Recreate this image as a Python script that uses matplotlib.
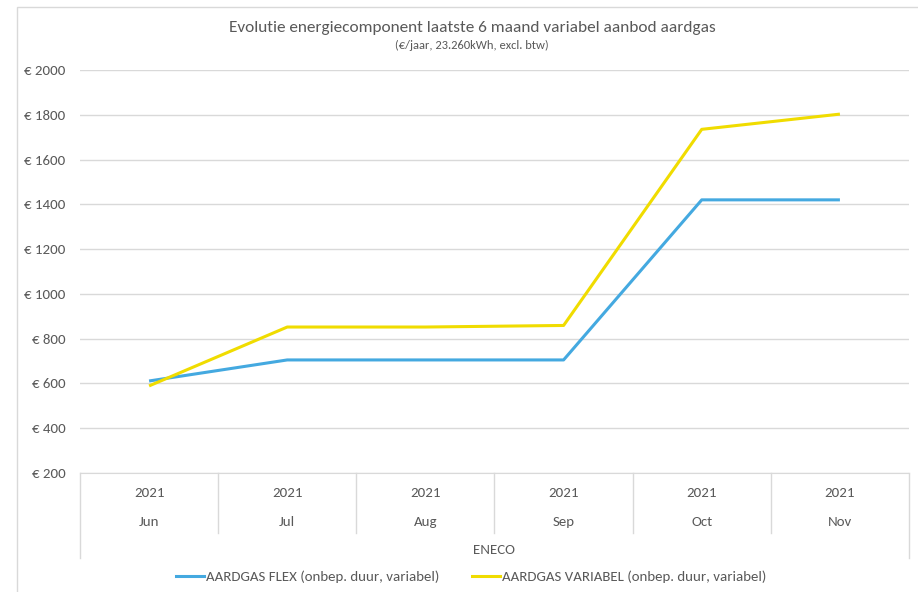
import matplotlib
matplotlib.use("Agg")
import matplotlib.pyplot as plt
import matplotlib.transforms as mtransforms
from matplotlib.patches import Rectangle
from matplotlib.lines import Line2D
from matplotlib.ticker import FuncFormatter

plt.rcParams['font.family'] = ['Carlito', 'Lato', 'DejaVu Sans']

months = ['Jun', 'Jul', 'Aug', 'Sep', 'Oct', 'Nov']
years = ['2021'] * 6
group = 'ENECO'
flex = [611, 705, 705, 705, 1420, 1420]
variabel = [589, 852, 852, 859, 1735, 1803]
series_names = ['AARDGAS FLEX (onbep. duur, variabel)',
                'AARDGAS VARIABEL (onbep. duur, variabel)']
colors = ['#44A9E0', '#F0DC00']

txt = '#595959'
grid = '#D9D9D9'
fs = 10.7

fig = plt.figure(figsize=(9.18, 5.92), dpi=100)
W, H = 918, 592
ax = fig.add_axes([80 / W, 1 - 473 / H, 829 / W, 403 / H])

# chart area border
fig.patches.append(Rectangle((17 / W, -0.1), 1.1, 1 - 7 / H + 0.1, transform=fig.transFigure,
                             fill=False, edgecolor=grid, lw=1))

x = list(range(len(months)))
ax.plot(x, flex, color=colors[0], lw=2.2, solid_capstyle='butt', zorder=3)
ax.plot(x, variabel, color=colors[1], lw=2.2, solid_capstyle='butt', zorder=4)

ax.set_xlim(-0.5, len(months) - 0.5)
ax.set_ylim(200, 2000)
ax.set_yticks(range(200, 2001, 200))
ax.yaxis.set_major_formatter(FuncFormatter(lambda v, p: f'€ {int(v)}'))
ax.tick_params(axis='y', length=0, labelsize=fs, labelcolor=txt, pad=10.5)
ax.set_xticks([])
ax.grid(axis='y', color=grid, lw=1)
ax.set_axisbelow(True)
for s in ['top', 'right', 'left']:
    ax.spines[s].set_visible(False)
ax.spines['bottom'].set_color(grid)

# multi-level category axis
tr = mtransforms.blended_transform_factory(ax.transData, ax.transAxes)
px = 1 / 403
for i in range(len(months) + 1):
    xb = i - 0.5
    bottom = -85 * px if i in (0, len(months)) else -60 * px
    ax.add_line(Line2D([xb, xb], [0, bottom], transform=tr, color=grid, lw=1, clip_on=False))
for i, (yr, m) in enumerate(zip(years, months)):
    ax.text(i, -20 * px, yr, transform=tr, ha='center', va='center', fontsize=fs, color=txt)
    ax.text(i, -49 * px, m, transform=tr, ha='center', va='center', fontsize=fs, color=txt)
ax.text((len(months) - 1) / 2, -77 * px, group, transform=tr, ha='center', va='center',
        fontsize=fs, color=txt)

fig.text(472 / W, 1 - 28 / H, 'Evolutie energiecomponent laatste 6 maand variabel aanbod aardgas',
         ha='center', va='center', fontsize=12.4, color=txt)
fig.text(472 / W, 1 - 45 / H, '(€/jaar, 23.260kWh, excl. btw)',
         ha='center', va='center', fontsize=9, color=txt)

handles = [Line2D([], [], color=c, lw=2.2) for c in colors]
fig.legend(handles, series_names, loc='center', bbox_to_anchor=(471 / W, 1 - 577 / H), ncol=2,
           frameon=False, fontsize=fs, labelcolor=txt, handlelength=1.9, handletextpad=0.1,
           columnspacing=2.2, borderpad=0)

fig.savefig('out.png', dpi=100)
